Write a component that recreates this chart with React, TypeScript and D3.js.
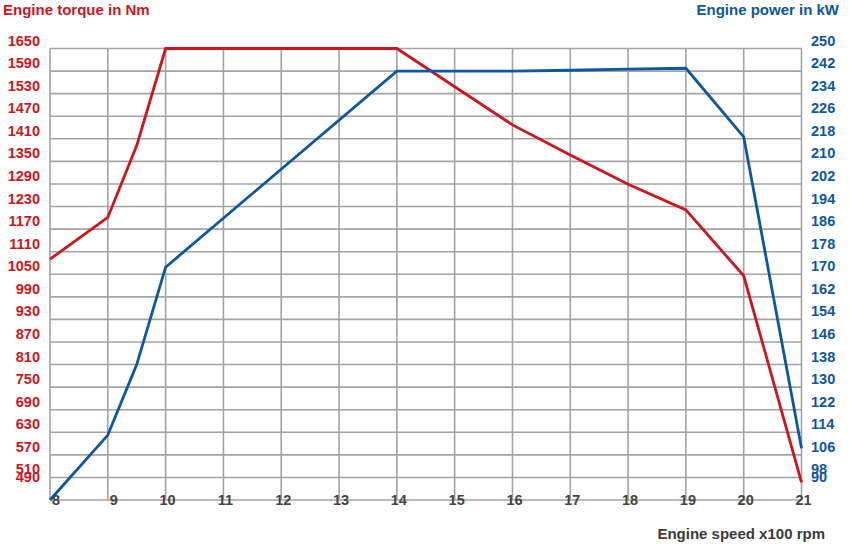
import React from "react";
import * as d3 from "d3";

const speeds = [8, 9, 9.5, 10, 14, 16, 17, 18, 19, 20, 21];
const torque = [1090, 1201, 1392, 1650, 1650, 1447, 1367, 1289, 1221, 1046, 497];
const power = [90, 113, 138, 172.5, 242, 242, 242.3, 242.7, 243, 218.7, 108.3];

const xTicks = [8, 9, 10, 11, 12, 13, 14, 15, 16, 17, 18, 19, 20, 21];
const torqueTicks = [1650, 1590, 1530, 1470, 1410, 1350, 1290, 1230, 1170, 1110, 1050, 990, 930, 870, 810, 750, 690, 630, 570, 510, 490];
const powerTicks = [250, 242, 234, 226, 218, 210, 202, 194, 186, 178, 170, 162, 154, 146, 138, 130, 122, 114, 106, 98, 90];
const torqueGrid = d3.range(1650, 449, -60);

const RED = "#d0141e";
const BLUE = "#0d56a0";
const GRID = "#a3a3a3";
const FONT = "'Liberation Sans', Arial, sans-serif";

export default function App() {
  const W = 850, H = 544;
  const x = d3.scaleLinear().domain([8, 21]).range([50, 801.5]);
  const yT = d3.scaleLinear().domain([450, 1650]).range([500, 48.5]);
  const yP = d3.scaleLinear().domain([90, 250]).range([500, 48.5]);

  const lineT = d3.line<number>().x((_, i) => x(speeds[i])).y((d) => yT(d));
  const lineP = d3.line<number>().x((_, i) => x(speeds[i])).y((d) => yP(d));

  const labelY = torqueTicks.map((v) => yT(v) - 3);

  return (
    <svg width={W} height={H} style={{ position: "absolute", left: 0, top: 0, background: "#fff" }} fontFamily={FONT}>
      <rect x={0} y={0} width={W} height={H} fill="#fff" />
      {torqueGrid.map((v) => (
        <line key={"h" + v} x1={x(8)} x2={x(21)} y1={yT(v)} y2={yT(v)} stroke={GRID} strokeWidth={1.6} />
      ))}
      {xTicks.map((v) => (
        <line key={"v" + v} x1={x(v)} x2={x(v)} y1={yT(1650)} y2={yT(450)} stroke={GRID} strokeWidth={1.6} />
      ))}
      <path d={lineT(torque) || ""} fill="none" stroke={RED} strokeWidth={2.8} strokeLinejoin="miter" />
      <path d={lineP(power) || ""} fill="none" stroke={BLUE} strokeWidth={2.8} strokeLinejoin="miter" />
      {torqueTicks.map((v, i) => (
        <text key={"lt" + v} x={40} y={labelY[i]} textAnchor="end" fontSize={14.5} fontWeight="bold" fill={RED}>
          {v}
        </text>
      ))}
      {powerTicks.map((v, i) => (
        <text key={"rt" + v} x={811} y={labelY[i]} textAnchor="start" fontSize={14.5} fontWeight="bold" fill={BLUE}>
          {v}
        </text>
      ))}
      {xTicks.map((v) => (
        <text key={"xt" + v} x={x(v) + (v < 10 ? 6 : 2)} y={505} textAnchor="middle" fontSize={14.5} fontWeight="bold" fill="#444">
          {v}
        </text>
      ))}
      <text x={3} y={15} fontSize={15} fontWeight="bold" fill={RED}>Engine torque in Nm</text>
      <text x={839} y={15} textAnchor="end" fontSize={15} fontWeight="bold" fill={BLUE}>Engine power in kW</text>
      <text x={825} y={539} textAnchor="end" fontSize={15} fontWeight="bold" fill="#3a3a3a">Engine speed x100 rpm</text>
    </svg>
  );
}
